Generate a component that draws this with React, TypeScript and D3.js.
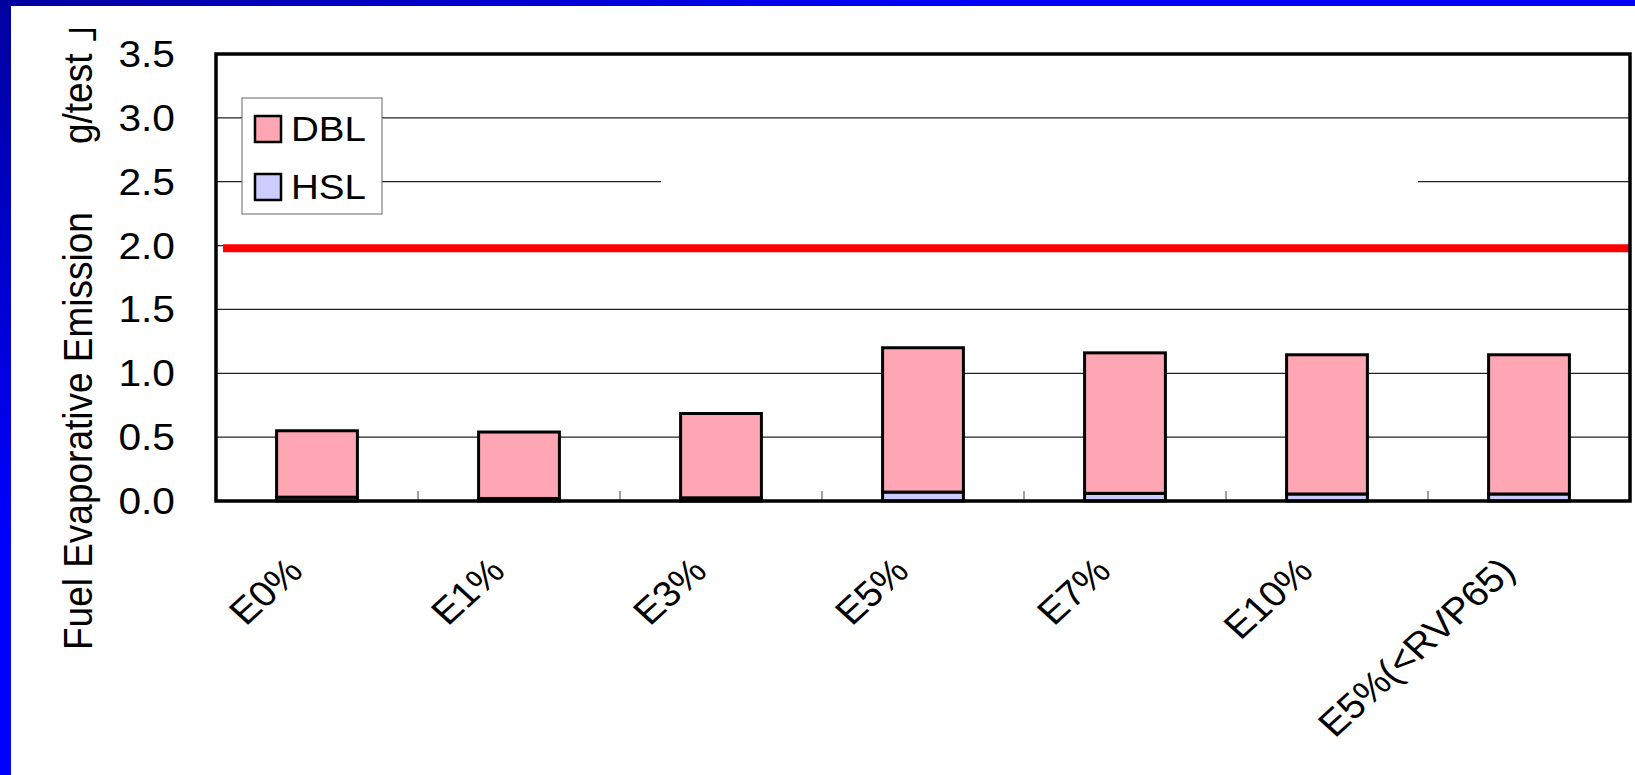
import * as d3 from "d3";

// values (g/test)
const categories = ["E0%", "E1%", "E3%", "E5%", "E7%", "E10%", "E5%(<RVP65)"];
const hslValues = [0.03, 0.02, 0.025, 0.07, 0.06, 0.055, 0.055];
const dblValues = [0.52, 0.52, 0.66, 1.13, 1.1, 1.09, 1.09];
const seriesNames = ["HSL", "DBL"];
const yTicks = [0, 0.5, 1.0, 1.5, 2.0, 2.5, 3.0, 3.5];
const limitValue = 1.98;

const W = 1635;
const H = 775;
const left = 216;
const right = 1630;
const top = 54;
const bottom = 501;
const sx = 1.1; // the source picture is stretched a bit horizontally
const font = "'Liberation Sans', Arial, 'Noto Sans CJK JP', sans-serif";

const colors: Record<string, string> = { HSL: "#CCCCFF", DBL: "#FFA6B4" };

export default function App() {
  const x = d3
    .scaleBand<string>()
    .domain(categories)
    .range([left, right])
    .paddingInner(0.6)
    .paddingOuter(0.3);
  const y = d3.scaleLinear([0, 3.5], [bottom, top]);

  const rows = categories.map((c, i) => ({ cat: c, HSL: hslValues[i], DBL: dblValues[i] }));
  const stacked = d3.stack<any>().keys(seriesNames)(rows);

  const step = x.step();

  return (
    <svg
      width={W}
      height={H}
      style={{ position: "absolute", left: 0, top: 0, background: "#fff" }}
      fontFamily={font}
    >
      <defs>
        <linearGradient id="topBand" x1="0" y1="0" x2="1" y2="0">
          <stop offset="0" stopColor="#0000A0" />
          <stop offset="0.6" stopColor="#0000FF" />
        </linearGradient>
        <linearGradient id="leftBand" x1="0" y1="0" x2="0" y2="1">
          <stop offset="0" stopColor="#0000A0" />
          <stop offset="0.7" stopColor="#0000FF" />
        </linearGradient>
      </defs>
      <rect x={0} y={0} width={W} height={H} fill="#fff" />
      <rect x={0} y={0} width={W} height={6} fill="url(#topBand)" />
      <rect x={0} y={0} width={11} height={H} fill="url(#leftBand)" />

      {/* gridlines */}
      {yTicks.slice(1, -1).map((t) => (
        <line key={t} x1={left} x2={right} y1={y(t)} y2={y(t)} stroke="#222" strokeWidth={1.2} />
      ))}
      {/* blank box that hides part of the 2.5 gridline */}
      <rect x={661} y={160} width={757} height={40} fill="#fff" />

      {/* limit line */}
      <line x1={223} x2={right} y1={y(limitValue)} y2={y(limitValue)} stroke="#FF0000" strokeWidth={8} />

      {/* bars */}
      {stacked.map((s) => (
        <g key={s.key}>
          {s.map((d: any, i: number) => (
            <rect
              key={i}
              x={x(categories[i])}
              y={y(d[1])}
              width={x.bandwidth()}
              height={y(d[0]) - y(d[1])}
              fill={colors[s.key]}
              stroke="#000"
              strokeWidth={3}
            />
          ))}
        </g>
      ))}

      {/* category ticks */}
      {categories.slice(1).map((c, i) => (
        <line
          key={c}
          x1={left + step * (i + 1)}
          x2={left + step * (i + 1)}
          y1={bottom}
          y2={bottom - 10}
          stroke="#808080"
          strokeWidth={1.5}
        />
      ))}

      {/* plot frame */}
      <rect x={left} y={top} width={right - left} height={bottom - top} fill="none" stroke="#000" strokeWidth={3.5} />

      {/* y tick labels */}
      {yTicks.map((t) => (
        <text
          key={t}
          transform={`translate(175,${y(t)}) scale(${sx},1)`}
          dy="0.35em"
          textAnchor="end"
          fontSize={37}
          fill="#000"
        >
          {t.toFixed(1)}
        </text>
      ))}

      {/* category labels */}
      {categories.map((c) => (
        <text
          key={c}
          transform={`translate(${(x(c) as number) + x.bandwidth() / 2 - 12},573) scale(${sx},1) rotate(-45)`}
          textAnchor="end"
          fontSize={36}
          fill="#000"
        >
          {c}
        </text>
      ))}

      {/* y axis title */}
      <text transform={`translate(91.5,700) scale(${sx},1) rotate(-90)`} fontSize={37} fill="#000">
        <tspan x={50}>Fuel Evaporative Emission</tspan>
        <tspan x={556}>g/test</tspan>
        <tspan x={658}>」</tspan>
      </text>

      {/* legend */}
      <g>
        <rect x={242} y={98} width={140} height={116} fill="#fff" stroke="#666" strokeWidth={1} />
        {["DBL", "HSL"].map((k, i) => (
          <g key={k}>
            <rect x={255} y={116 + i * 58} width={26} height={26} fill={colors[k]} stroke="#000" strokeWidth={2.5} />
            <text transform={`translate(291,${141 + i * 58}) scale(${sx},1)`} fontSize={35} fill="#000">
              {k}
            </text>
          </g>
        ))}
      </g>
    </svg>
  );
}
